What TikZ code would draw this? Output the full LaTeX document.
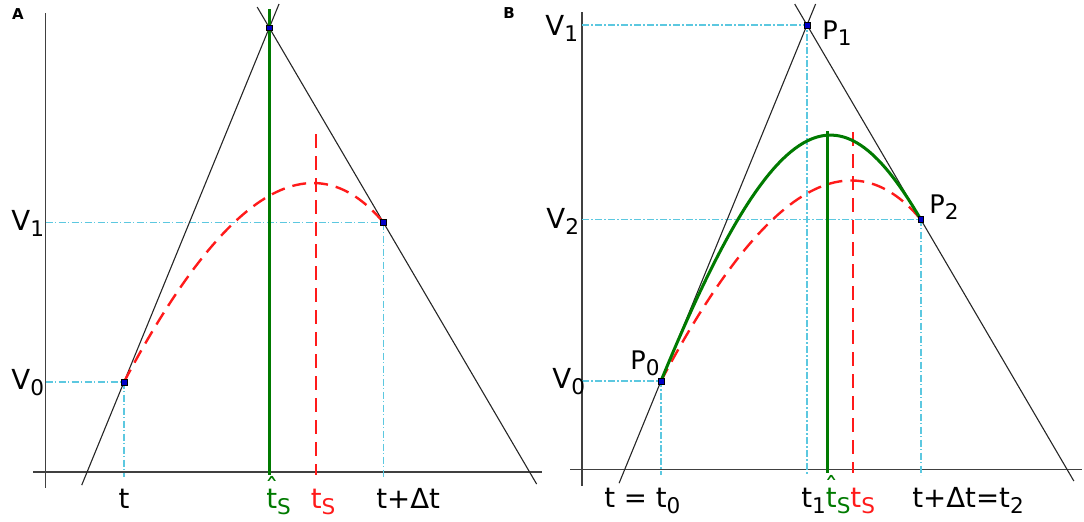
\documentclass[tikz,border=0pt]{standalone}
\usepackage{fontspec}
\setmainfont{DejaVu Sans}
\usetikzlibrary{calc}
\definecolor{CurveGreen}{HTML}{007A00}
\definecolor{CurveRed}{HTML}{FF1A1A}
\definecolor{GuideBlue}{HTML}{5CC8E0}
\definecolor{PointBlue}{HTML}{0000C8}
\newcommand{\lo}[1]{\raisebox{-0.45ex}{\fontsize{10.8}{11}\selectfont #1}}
\newcommand{\hatt}{\leavevmode\rlap{\hbox to \fontcharwd\font`t{\hss\raisebox{0.34em}{ˆ}\hss}}t}
\tikzset{
  axis/.style={line width=0.8pt, black!75},
  tangent/.style={line width=0.55pt, black!85},
  guide/.style={line width=0.8pt, GuideBlue, dash pattern=on 3.5pt off 1.2pt on 0.6pt off 1.2pt},
  redcurve/.style={line width=1.2pt, CurveRed, dash pattern=on 7pt off 4pt},
  greenline/.style={line width=1.8pt, CurveGreen},
  pt/.style={draw=black, fill=PointBlue, line width=0.3pt, minimum size=2.8pt, inner sep=0pt},
  lab/.style={font=\fontsize{13.8}{16}\selectfont, inner sep=0pt, anchor=base west},
  plab/.style={font=\fontsize{12.8}{15}\selectfont, inner sep=0pt, anchor=base west},
  panel/.style={font=\bfseries\fontsize{7.5}{9}\selectfont, inner sep=0pt}
}

\begin{document}
\begin{tikzpicture}[x=0.5pt, y=-0.5pt]
\useasboundingbox (0,0) rectangle (1084,521);

% Panel A: points on the curve
\coordinate (a0) at (124,382);
\coordinate (a1) at (269.3,27.7);
\coordinate (a2) at (383.3,222.3);
\coordinate (ya) at (45.5,0);

% Axes A
\draw[axis] (45.5,13) -- (45.5,488);
\draw[axis] (33,472) -- (542,472);

% Guides A
\draw[guide] (ya |- a0) -- (a0) -- (a0 |- 0,477);
\draw[guide] (ya |- a2) -- (a2) -- (a2 |- 0,477);

% Tangents A
\draw[tangent] ($(a0)!-0.291!(a1)$) -- ($(a0)!1.067!(a1)$);
\draw[tangent] ($(a1)!-0.106!(a2)$) -- ($(a1)!2.345!(a2)$);

% True curve and its peak (dashed)
\draw[redcurve] (a0) .. controls (225.3,190.4) and (311.8,137.2) .. (a2);
\draw[redcurve] (315.7,134) -- (315.7,475);

% Estimated peak
\draw[greenline] (a1 |- 0,9) -- (a1 |- 0,475);

\node[pt] (qa0) at (a0) {};
\node[pt] (qa1) at (a1) {};
\node[pt] (qa2) at (a2) {};

% Labels A
\node[panel] (pa) at (18,14) {A};
\node[lab] (va1) at (11,230) {V\lo{1}};
\node[lab] (va0) at (11,389) {V\lo{0}};
\node[lab, anchor=base] (ta) at (124,508) {t};
\node[lab, CurveGreen] (tha) at (266,508) {\hatt\lo{S}};
\node[lab, CurveRed] (tsa) at (310.5,508) {t\lo{S}};
\node[lab] (tda) at (376,508) {t+Δt};

% Panel B: control points
\coordinate (b0) at (661,381);
\coordinate (b1) at (807,25);
\coordinate (b2) at (920.7,219.3);
\coordinate (yb) at (582,0);

% Axes B
\draw[axis] (582,12) -- (582,486);
\draw[axis] (570,469.3) -- (1082,469.3);

% Guides B
\draw[guide] (yb |- b0) -- (b0) -- (b0 |- 0,475);
\draw[guide] (yb |- b1) -- (b1) -- (b1 |- 0,475);
\draw[guide] (yb |- b2) -- (b2) -- (b2 |- 0,475);

% Tangents B
\draw[tangent] ($(b0)!-0.287!(b1)$) -- ($(b0)!1.059!(b1)$);
\draw[tangent] ($(b1)!-0.108!(b2)$) -- ($(b1)!2.347!(b2)$);

% True curve and its peak (dashed)
\draw[redcurve] (b0) .. controls (762.3,189.4) and (849.2,134.2) .. (b2);
\draw[redcurve] (852.7,132) -- (852.7,473);

% Fitted curve and its peak
\draw[greenline, line width=1.5pt] (b0) .. controls (780.7,89.1) and (843.4,87.2) .. (b2);
\draw[greenline, line width=1.5pt] (827,131) -- (827,473);

\node[pt] (qb0) at (b0) {};
\node[pt] (qb1) at (b1) {};
\node[pt] (qb2) at (b2) {};

% Labels B
\node[panel] (pb) at (509,13) {B};
\node[lab] (vb1) at (545,35) {V\lo{1}};
\node[lab] (vb2) at (546,228) {V\lo{2}};
\node[lab] (vb0) at (552,388) {V\lo{0}};
\node[plab] (lp0) at (630,369) {P\lo{0}};
\node[plab] (lp1) at (822,39) {P\lo{1}};
\node[plab] (lp2) at (929,213) {P\lo{2}};
\node[lab] (tb0) at (604,507) {t = t\lo{0}};
\node[lab] (tb1) at (801,507) {t\lo{1}\textcolor{CurveGreen}{\hatt\lo{S}}\textcolor{CurveRed}{t\lo{S}}};
\node[lab] (tb2) at (912,507) {t+Δt=t\lo{2}};
\end{tikzpicture}
\end{document}
